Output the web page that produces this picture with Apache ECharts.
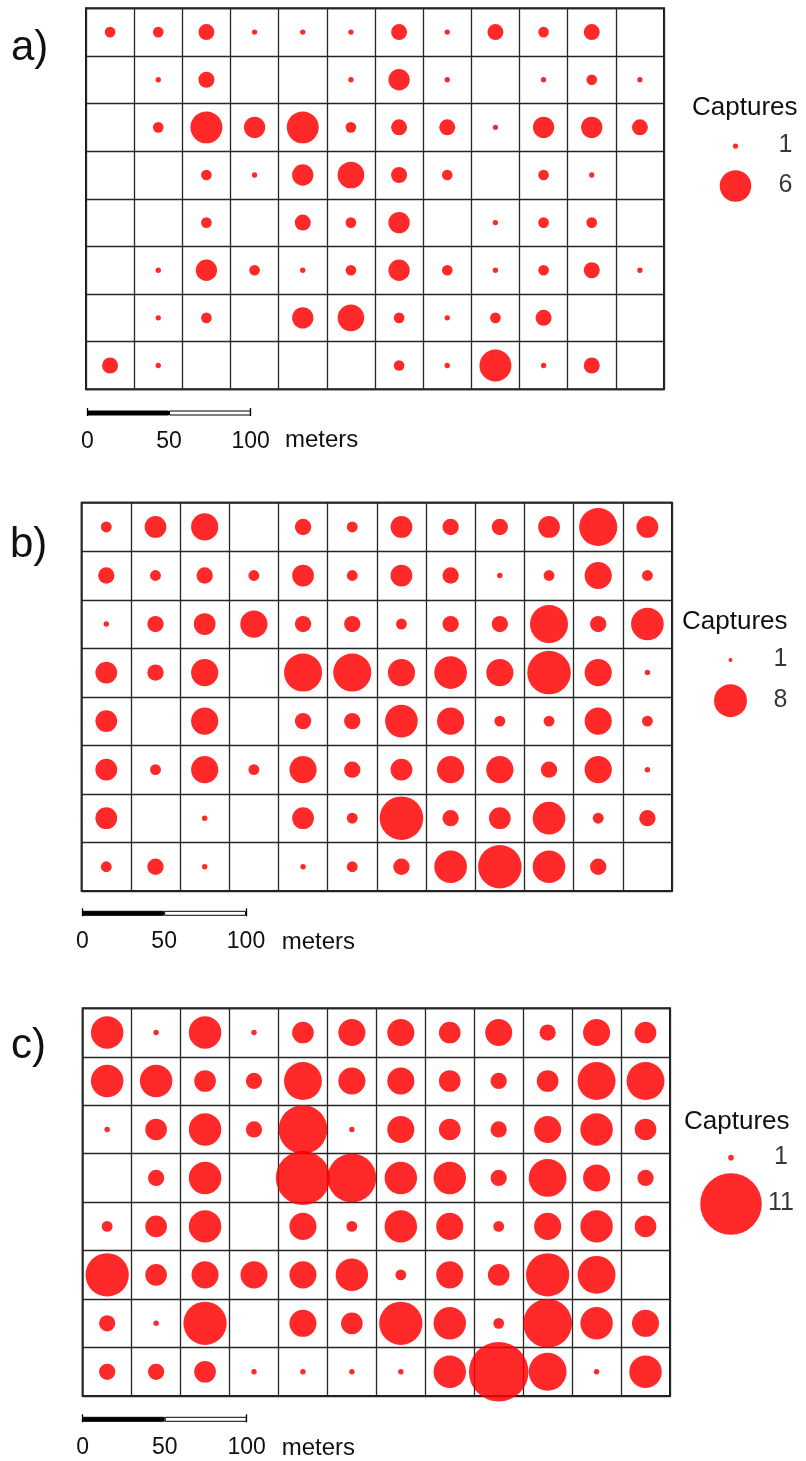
<!DOCTYPE html>
<html>
<head>
<meta charset="utf-8">
<script src="https://cdn.jsdelivr.net/npm/echarts@6/dist/echarts.min.js"></script>
<style>
  html, body { margin: 0; padding: 0; background: #fff; }
  #chart { width: 806px; height: 1461px; }
</style>
</head>
<body>
<div id="chart"></div>
<script>
// Captures per trap cell, 8 rows (top to bottom) x 12 columns (left to right); 0 = no captures
const capturesA = [
  [2, 2, 3, 1, 1, 1, 3, 1, 3, 2, 3, 0],
  [0, 1, 3, 0, 0, 1, 4, 1, 0, 1, 2, 1],
  [0, 2, 6, 4, 6, 2, 3, 3, 1, 4, 4, 3],
  [0, 0, 2, 1, 4, 5, 3, 2, 0, 2, 1, 0],
  [0, 0, 2, 0, 3, 2, 4, 0, 1, 2, 2, 0],
  [0, 1, 4, 2, 1, 2, 4, 2, 1, 2, 3, 1],
  [0, 1, 2, 0, 4, 5, 2, 1, 2, 3, 0, 0],
  [3, 1, 0, 0, 0, 0, 2, 1, 6, 1, 3, 0]
];
const capturesB = [
  [2, 4, 5, 0, 3, 2, 4, 3, 3, 4, 7, 4],
  [3, 2, 3, 2, 4, 2, 4, 3, 1, 2, 5, 2],
  [1, 3, 4, 5, 3, 3, 2, 3, 3, 7, 3, 6],
  [4, 3, 5, 0, 7, 7, 5, 6, 5, 8, 5, 1],
  [4, 0, 5, 0, 3, 3, 6, 5, 2, 2, 5, 2],
  [4, 2, 5, 2, 5, 3, 4, 5, 5, 3, 5, 1],
  [4, 0, 1, 0, 4, 2, 8, 3, 4, 6, 2, 3],
  [2, 3, 1, 0, 1, 2, 3, 6, 8, 6, 3, 0]
];
const capturesC = [
  [6, 1, 6, 1, 4, 5, 5, 4, 5, 3, 5, 4],
  [6, 6, 4, 3, 7, 5, 5, 4, 3, 4, 7, 7],
  [1, 4, 6, 3, 9, 1, 5, 4, 3, 5, 6, 4],
  [0, 3, 6, 0, 10, 9, 6, 6, 3, 7, 5, 3],
  [2, 4, 6, 0, 5, 2, 6, 5, 2, 5, 6, 4],
  [8, 4, 5, 5, 5, 6, 2, 5, 4, 8, 7, 0],
  [3, 1, 8, 0, 5, 4, 8, 6, 2, 9, 6, 5],
  [3, 3, 4, 1, 1, 1, 1, 6, 11, 7, 1, 6]
];

// Legend keys (captures) for each panel
const legendA = [1, 6];
const legendB = [1, 8];
const legendC = [1, 11];

// Scale bar tick values (meters)
const scaleTicks = [0, 50, 100];
const panelTags = ['a)', 'b)', 'c)'];

// Layout and styling of the three panels
const N_COLS = 12, N_ROWS = 8;
const DIAM_PER_CAPTURE = 0.1106;   // bubble diameter per capture, as a fraction of cell width
const RED = '#ff0000';
const INK = '#111111';
const FONT = '"Liberation Sans", Arial, Helvetica, sans-serif';

const panels = [
  { tag: panelTags[0], data: capturesA, legend: legendA,
    grid: { left: 86, top: 8.3, width: 578, height: 381 },
    legendGrid: { left: 700.5, top: 126, width: 70, height: 80 }, legendStep: 5.25,
    title: [692, 108], tagPos: [11, 48],
    scale: { left: 87.3, top: 410, width: 163.4 }, meters: [285, 440] },
  { tag: panelTags[1], data: capturesB, legend: legendB,
    grid: { left: 81.7, top: 502.7, width: 590.3, height: 388.3 },
    legendGrid: { left: 695.5, top: 639.6, width: 70, height: 81.4 }, legendStep: 4.12,
    title: [682, 621.7], tagPos: [10, 545],
    scale: { left: 82.3, top: 910.3, width: 163.7 }, meters: [281.7, 942.3] },
  { tag: panelTags[2], data: capturesC, legend: legendC,
    grid: { left: 82.7, top: 1008.3, width: 587.3, height: 387.7 },
    legendGrid: { left: 696, top: 1134.5, width: 70, height: 92.6 }, legendStep: 5.6,
    title: [684, 1121.7], tagPos: [11, 1046],
    scale: { left: 82.7, top: 1416.3, width: 164 }, meters: [281.7, 1448.3] }
];

const grids = [], xAxes = [], yAxes = [], series = [], graphics = [];

panels.forEach((p, i) => {
  const cellPx = p.grid.width / N_COLS;

  // --- trap grid with bubbles ---
  const gi = grids.length;
  grids.push(Object.assign({ show: true, borderColor: '#1c1c1c', borderWidth: 2,
                              backgroundColor: 'transparent', containLabel: false }, p.grid));
  xAxes.push({ gridIndex: gi, type: 'value', min: 0, max: N_COLS, interval: 1,
    axisLine: { show: false }, axisTick: { show: false }, axisLabel: { show: false },
    splitLine: { show: true, lineStyle: { color: '#262626', width: 1.3 } } });
  yAxes.push({ gridIndex: gi, type: 'value', min: 0, max: N_ROWS, interval: 1,
    axisLine: { show: false }, axisTick: { show: false }, axisLabel: { show: false },
    splitLine: { show: true, lineStyle: { color: '#262626', width: 1.3 } } });

  const pts = [];
  p.data.forEach((row, r) => row.forEach((v, c) => {
    if (v > 0) pts.push([c + 0.5, N_ROWS - r - 0.5, v]);
  }));
  series.push({
    type: 'scatter', xAxisIndex: gi, yAxisIndex: gi, data: pts,
    symbol: 'circle',
    symbolSize: val => val[2] * DIAM_PER_CAPTURE * cellPx,
    itemStyle: { color: RED, opacity: 0.84 },
    emphasis: { disabled: true }, silent: true, z: 3
  });

  // --- legend: key bubbles labelled with their capture counts ---
  const li = grids.length;
  grids.push(Object.assign({ show: false, containLabel: false }, p.legendGrid));
  xAxes.push({ gridIndex: li, type: 'value', min: 0, max: 1, show: false });
  yAxes.push({ gridIndex: li, type: 'value', min: 0, max: 2, show: false });
  series.push({
    type: 'scatter', xAxisIndex: li, yAxisIndex: li,
    data: p.legend.map((v, k) => [0.5, 1.5 - k, v]),
    symbol: 'circle',
    symbolSize: val => val[2] * p.legendStep,
    itemStyle: { color: RED, opacity: 0.84 },
    label: { show: true, position: 'inside', offset: [50, -1], align: 'center',
      color: INK, fontSize: 25, fontFamily: FONT,
      formatter: prm => String(prm.value[2]) },
    emphasis: { disabled: true }, silent: true
  });
  graphics.push({ type: 'text', x: p.title[0], y: p.title[1], silent: true,
    style: { text: 'Captures', font: '26px ' + FONT, fill: INK,
             textAlign: 'left', textVerticalAlign: 'middle', align: 'left', verticalAlign: 'middle' } });

  // --- panel tag ---
  graphics.push({ type: 'text', x: p.tagPos[0], y: p.tagPos[1], silent: true,
    style: { text: p.tag, font: '42px ' + FONT, fill: INK,
             textAlign: 'left', textVerticalAlign: 'middle', align: 'left', verticalAlign: 'middle' } });

  // --- scale bar: black/white segments on a metre axis ---
  const si = grids.length;
  grids.push({ left: p.scale.left, top: p.scale.top, width: p.scale.width, height: 6,
               show: false, containLabel: false });
  xAxes.push({ gridIndex: si, type: 'value', min: scaleTicks[0], max: scaleTicks[scaleTicks.length - 1],
    interval: scaleTicks[1] - scaleTicks[0], position: 'bottom',
    axisLine: { show: false },
    axisTick: { show: true, inside: true, length: 8, customValues: [scaleTicks[0], scaleTicks[scaleTicks.length - 1]],
                lineStyle: { color: '#000', width: 1.3 } },
    axisLabel: { show: true, margin: 14, color: INK, fontSize: 23, fontFamily: FONT,
                 formatter: v => String(v) },
    splitLine: { show: false } });
  yAxes.push({ gridIndex: si, type: 'category', data: ['bar'], show: false });
  const segColors = ['#000000', '#ffffff'];
  for (let k = 0; k < scaleTicks.length - 1; k++) {
    series.push({
      type: 'bar', xAxisIndex: si, yAxisIndex: si, stack: 'scale' + i,
      data: [scaleTicks[k + 1] - scaleTicks[k]], barWidth: 5,
      itemStyle: { color: segColors[k % 2], borderColor: '#000', borderWidth: 1 },
      emphasis: { disabled: true }, silent: true
    });
  }
  graphics.push({ type: 'text', x: p.meters[0], y: p.meters[1], silent: true,
    style: { text: 'meters', font: '24px ' + FONT, fill: INK,
             textAlign: 'left', textVerticalAlign: 'middle', align: 'left', verticalAlign: 'middle' } });
});

const chart = echarts.init(document.getElementById('chart'), null, { renderer: 'canvas' });
chart.setOption({
  animation: false,
  backgroundColor: '#ffffff',
  grid: grids,
  xAxis: xAxes,
  yAxis: yAxes,
  series: series,
  graphic: graphics
});
</script>
</body>
</html>
